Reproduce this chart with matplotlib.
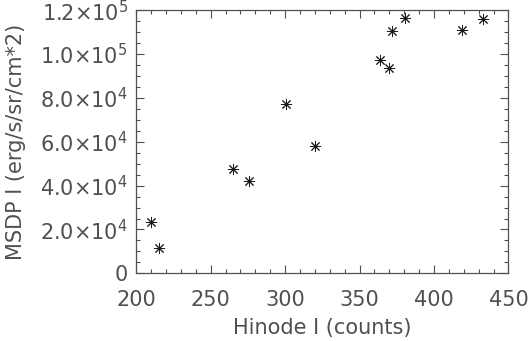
import matplotlib
matplotlib.use('Agg')
import matplotlib.pyplot as plt
from matplotlib.ticker import MultipleLocator, FuncFormatter

# data
hinode_i = [209.6, 215.0, 265.0, 275.9, 300.8, 320.1, 363.7, 370.0, 372.0, 380.8, 418.9, 433.0]
msdp_i = [23300, 11400, 47400, 42300, 77300, 58200, 97400, 93600, 110500, 116500, 110900, 115900]

x_ticks = [200, 250, 300, 350, 400, 450]
y_ticks = [0, 20000, 40000, 60000, 80000, 100000, 120000]

plt.rcParams['font.family'] = ['DejaVu Sans']
plt.rcParams['mathtext.default'] = 'regular'
ink = '#505050'

fig = plt.figure(figsize=(5.28, 3.41), dpi=100)
ax = fig.add_axes([0.258, 0.1985, 0.705, 0.7715])

ax.plot(hinode_i, msdp_i, linestyle='none', marker=(8, 2, 0),
        markersize=8, markeredgewidth=0.7, color='#1a1a1a')

ax.set_xlim(200, 450)
ax.set_ylim(0, 120000)
ax.set_xticks(x_ticks)
ax.set_yticks(y_ticks)
ax.xaxis.set_minor_locator(MultipleLocator(10))
ax.yaxis.set_minor_locator(MultipleLocator(5000))


def sci_fmt(v, pos):
    if v == 0:
        return '0'
    exp = len(str(int(v))) - 1
    mant = v / 10 ** exp
    return '%.1f\u00d710$^{%d}$' % (mant, exp)


ax.yaxis.set_major_formatter(FuncFormatter(sci_fmt))

ax.tick_params(which='both', direction='in', top=True, right=True,
               colors=ink, labelsize=15, width=0.8)
ax.tick_params(which='major', length=6)
ax.tick_params(axis='x', which='major', pad=12)
ax.tick_params(axis='y', which='major', pad=6)
ax.tick_params(which='minor', length=3)
for sp in ax.spines.values():
    sp.set_color(ink)
    sp.set_linewidth(0.9)

ax.set_xlabel('Hinode I (counts)', fontsize=15, color=ink, labelpad=6)
ax.set_ylabel('MSDP I (erg/s/sr/cm*2)', fontsize=15, color=ink, labelpad=10)

fig.savefig('out.png', dpi=100)
